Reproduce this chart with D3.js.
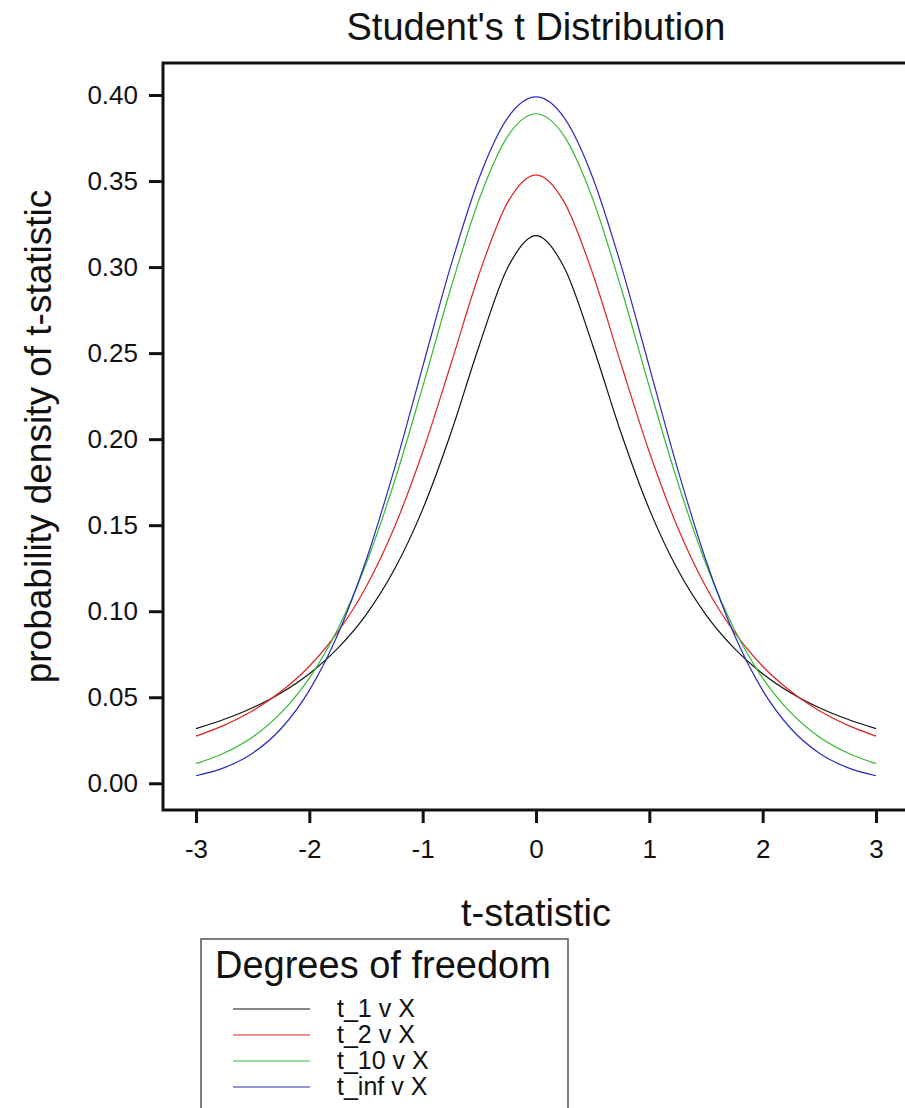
<!DOCTYPE html>
<html>
<head>
    <meta charset="utf-8">
    <title>Student's t Distribution</title>
    <script src="https://d3js.org/d3.v7.min.js"></script>
    <style>
        html, body {
            margin: 0;
            padding: 0;
            background: white;
        }
        svg {
            display: block;
            font-family: "Liberation Sans", Arial, sans-serif;
        }
        .axis text {
            font-size: 26px;
            font-family: "Liberation Sans", Arial, sans-serif;
            fill: #111;
        }
    </style>
</head>
<body>
<div id="chart"></div>
<script>
    const tValues = [-3, -2.75, -2.5, -2.25, -2, -1.75, -1.5, -1.25, -1, -0.75, -0.5, -0.25, 0,
                     0.25, 0.5, 0.75, 1, 1.25, 1.5, 1.75, 2, 2.25, 2.5, 2.75, 3];

    // density for each degrees of freedom
    const t1 = [0.0318, 0.0372, 0.0439, 0.0525, 0.0637, 0.0784, 0.0979, 0.1242, 0.1592, 0.2037, 0.2546, 0.2996, 0.3183,
                0.2996, 0.2546, 0.2037, 0.1592, 0.1242, 0.0979, 0.0784, 0.0637, 0.0525, 0.0439, 0.0372, 0.0318];
    const t2 = [0.0274, 0.0338, 0.0422, 0.0533, 0.0680, 0.0878, 0.1141, 0.1487, 0.1925, 0.2438, 0.2963, 0.3376, 0.3536,
                0.3376, 0.2963, 0.2438, 0.1925, 0.1487, 0.1141, 0.0878, 0.0680, 0.0533, 0.0422, 0.0338, 0.0274];
    const t10 = [0.0114, 0.0176, 0.0269, 0.0409, 0.0611, 0.0895, 0.1274, 0.1751, 0.2304, 0.2880, 0.3397, 0.3760, 0.3891,
                 0.3760, 0.3397, 0.2880, 0.2304, 0.1751, 0.1274, 0.0895, 0.0611, 0.0409, 0.0269, 0.0176, 0.0114];
    const tInf = [0.0044, 0.0091, 0.0175, 0.0317, 0.0540, 0.0863, 0.1295, 0.1826, 0.2420, 0.3011, 0.3521, 0.3867, 0.3989,
                  0.3867, 0.3521, 0.3011, 0.2420, 0.1826, 0.1295, 0.0863, 0.0540, 0.0317, 0.0175, 0.0091, 0.0044];

    const seriesNames = ["t_1 v X", "t_2 v X", "t_10 v X", "t_inf v X"];
    const seriesColors = ["#111111", "#dd2222", "#33bb33", "#2a2ab8"];
    const xTicks = [-3, -2, -1, 0, 1, 2, 3];
    const yTicks = [0, 0.05, 0.10, 0.15, 0.20, 0.25, 0.30, 0.35, 0.40];

    const width = 905;
    const height = 1108;

    // frame edges
    const frameLeft = 163;
    const frameTop = 63;
    const frameBottom = 810;

    const svg = d3.select("#chart")
        .append("svg")
        .attr("width", width)
        .attr("height", height);

    const x = d3.scaleLinear().domain([-3, 3]).range([196, 876]);
    const y = d3.scaleLinear().domain([0, 0.40]).range([783.3, 95]);

    // title
    svg.append("text")
        .attr("x", x(0))
        .attr("y", 40)
        .attr("text-anchor", "middle")
        .style("font-size", "38px")
        .attr("fill", "#111")
        .text("Student's t Distribution");

    // curves
    const allSeries = [t1, t2, t10, tInf];
    const line = d3.line()
        .x((d, i) => x(tValues[i]))
        .y(d => y(d))
        .curve(d3.curveMonotoneX);

    svg.selectAll(".curve")
        .data(allSeries)
        .enter()
        .append("path")
        .attr("class", "curve")
        .attr("d", d => line(d))
        .attr("fill", "none")
        .attr("stroke", (d, i) => seriesColors[i])
        .attr("stroke-width", 1.2);

    // frame (right side runs off the page)
    svg.append("path")
        .attr("d", `M${width + 10},${frameTop}H${frameLeft}V${frameBottom}H${width + 10}`)
        .attr("fill", "none")
        .attr("stroke", "#111")
        .attr("stroke-width", 3);

    // y axis
    const yAxis = svg.append("g")
        .attr("class", "axis")
        .attr("transform", `translate(${frameLeft},0)`)
        .call(d3.axisLeft(y).tickValues(yTicks).tickFormat(d3.format(".2f")).tickSize(14).tickPadding(11));

    // x axis, plain hyphen for negatives like the original
    const xAxis = svg.append("g")
        .attr("class", "axis")
        .attr("transform", `translate(0,${frameBottom})`)
        .call(d3.axisBottom(x).tickValues(xTicks).tickFormat(d => String(d)).tickSize(13).tickPadding(17));

    [yAxis, xAxis].forEach(ax => {
        ax.attr("font-size", 26).attr("font-family", "\"Liberation Sans\", Arial, sans-serif");
        ax.select(".domain").remove();
        ax.selectAll(".tick line").attr("stroke", "#111").attr("stroke-width", 3);
    });

    // axis labels
    svg.append("text")
        .attr("x", x(0))
        .attr("y", 926)
        .attr("text-anchor", "middle")
        .style("font-size", "38px")
        .attr("fill", "#111")
        .text("t-statistic");

    svg.append("text")
        .attr("transform", `translate(51,${(frameTop + frameBottom) / 2}) rotate(-90)`)
        .attr("text-anchor", "middle")
        .style("font-size", "37px")
        .attr("fill", "#111")
        .text("probability density of t-statistic");

    // legend
    const legend = svg.append("g");
    legend.append("rect")
        .attr("x", 201)
        .attr("y", 939)
        .attr("width", 367)
        .attr("height", 200)
        .attr("fill", "white")
        .attr("stroke", "#555")
        .attr("stroke-width", 1.5);

    legend.append("text")
        .attr("x", 215)
        .attr("y", 978)
        .style("font-size", "38px")
        .attr("fill", "#111")
        .text("Degrees of freedom");

    const items = legend.selectAll(".item")
        .data(seriesNames)
        .enter()
        .append("g")
        .attr("class", "item")
        .attr("transform", (d, i) => `translate(0,${1009 + i * 26})`);

    items.append("line")
        .attr("x1", 233)
        .attr("x2", 310)
        .attr("stroke", (d, i) => seriesColors[i])
        .attr("stroke-width", 1.2);

    items.append("text")
        .attr("x", 337)
        .attr("y", 8)
        .style("font-size", "25px")
        .attr("fill", "#111")
        .text(d => d);
</script>
</body>
</html>
